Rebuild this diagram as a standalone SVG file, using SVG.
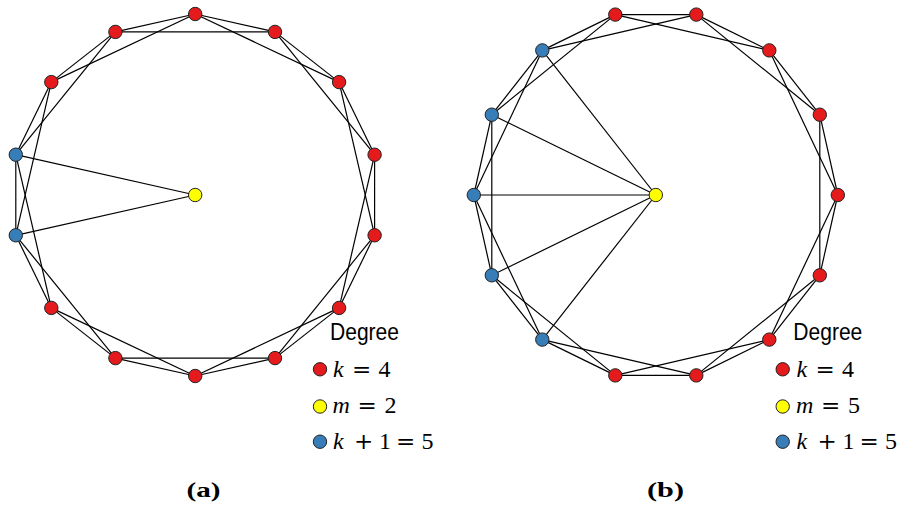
<svg xmlns="http://www.w3.org/2000/svg" width="902" height="508" viewBox="0 0 902 508">
<style>
.e{stroke:#000;stroke-width:1.2;fill:none}
.n{stroke:#222;stroke-width:1}
.r{fill:#e41a1c}.y{fill:#ffff00}.b{fill:#377eb8}
.lab{font-family:"Liberation Sans","DejaVu Sans",sans-serif;font-size:23px;fill:#000}
.m{font-family:"Liberation Serif","DejaVu Serif",serif;font-size:24px;fill:#000}
.op{font-family:"DejaVu Serif","Liberation Serif",serif;font-size:23px}
.it{font-style:italic}
.cap{font-family:"Liberation Serif","DejaVu Serif",serif;font-weight:bold;font-size:22px;fill:#000}
</style>
<rect width="902" height="508" fill="#fff"/>
<g id="connectors-a">
<line class="e" x1="195.2" y1="14" x2="275" y2="31.9"/>
<line class="e" x1="275" y1="31.9" x2="339.1" y2="82.1"/>
<line class="e" x1="339.1" y1="82.1" x2="374.6" y2="154.7"/>
<line class="e" x1="374.6" y1="154.7" x2="374.6" y2="235.3"/>
<line class="e" x1="374.6" y1="235.3" x2="339.1" y2="307.9"/>
<line class="e" x1="339.1" y1="307.9" x2="275" y2="358.1"/>
<line class="e" x1="275" y1="358.1" x2="195.2" y2="376"/>
<line class="e" x1="195.2" y1="376" x2="115.4" y2="358.1"/>
<line class="e" x1="115.4" y1="358.1" x2="51.3" y2="307.9"/>
<line class="e" x1="51.3" y1="307.9" x2="15.8" y2="235.3"/>
<line class="e" x1="15.8" y1="235.3" x2="15.8" y2="154.7"/>
<line class="e" x1="15.8" y1="154.7" x2="51.3" y2="82.1"/>
<line class="e" x1="51.3" y1="82.1" x2="115.4" y2="31.9"/>
<line class="e" x1="115.4" y1="31.9" x2="195.2" y2="14"/>
<line class="e" x1="195.2" y1="14" x2="339.1" y2="82.1"/>
<line class="e" x1="275" y1="31.9" x2="374.6" y2="154.7"/>
<line class="e" x1="339.1" y1="82.1" x2="374.6" y2="235.3"/>
<line class="e" x1="374.6" y1="154.7" x2="339.1" y2="307.9"/>
<line class="e" x1="374.6" y1="235.3" x2="275" y2="358.1"/>
<line class="e" x1="339.1" y1="307.9" x2="195.2" y2="376"/>
<line class="e" x1="275" y1="358.1" x2="115.4" y2="358.1"/>
<line class="e" x1="195.2" y1="376" x2="51.3" y2="307.9"/>
<line class="e" x1="115.4" y1="358.1" x2="15.8" y2="235.3"/>
<line class="e" x1="51.3" y1="307.9" x2="15.8" y2="154.7"/>
<line class="e" x1="15.8" y1="235.3" x2="51.3" y2="82.1"/>
<line class="e" x1="15.8" y1="154.7" x2="115.4" y2="31.9"/>
<line class="e" x1="51.3" y1="82.1" x2="195.2" y2="14"/>
<line class="e" x1="115.4" y1="31.9" x2="275" y2="31.9"/>
<line class="e" x1="15.8" y1="235.3" x2="195.2" y2="195"/>
<line class="e" x1="15.8" y1="154.7" x2="195.2" y2="195"/>
</g>
<g id="connectors-b">
<line class="e" x1="615.3" y1="14.6" x2="696.3" y2="14.6"/>
<line class="e" x1="696.3" y1="14.6" x2="769.3" y2="50.4"/>
<line class="e" x1="769.3" y1="50.4" x2="819.8" y2="114.7"/>
<line class="e" x1="819.8" y1="114.7" x2="837.8" y2="195"/>
<line class="e" x1="837.8" y1="195" x2="819.8" y2="275.3"/>
<line class="e" x1="819.8" y1="275.3" x2="769.3" y2="339.6"/>
<line class="e" x1="769.3" y1="339.6" x2="696.3" y2="375.4"/>
<line class="e" x1="696.3" y1="375.4" x2="615.3" y2="375.4"/>
<line class="e" x1="615.3" y1="375.4" x2="542.3" y2="339.6"/>
<line class="e" x1="542.3" y1="339.6" x2="491.8" y2="275.3"/>
<line class="e" x1="491.8" y1="275.3" x2="473.8" y2="195"/>
<line class="e" x1="473.8" y1="195" x2="491.8" y2="114.7"/>
<line class="e" x1="491.8" y1="114.7" x2="542.3" y2="50.4"/>
<line class="e" x1="542.3" y1="50.4" x2="615.3" y2="14.6"/>
<line class="e" x1="615.3" y1="14.6" x2="769.3" y2="50.4"/>
<line class="e" x1="696.3" y1="14.6" x2="819.8" y2="114.7"/>
<line class="e" x1="769.3" y1="50.4" x2="837.8" y2="195"/>
<line class="e" x1="819.8" y1="114.7" x2="819.8" y2="275.3"/>
<line class="e" x1="837.8" y1="195" x2="769.3" y2="339.6"/>
<line class="e" x1="819.8" y1="275.3" x2="696.3" y2="375.4"/>
<line class="e" x1="769.3" y1="339.6" x2="615.3" y2="375.4"/>
<line class="e" x1="696.3" y1="375.4" x2="542.3" y2="339.6"/>
<line class="e" x1="615.3" y1="375.4" x2="491.8" y2="275.3"/>
<line class="e" x1="542.3" y1="339.6" x2="473.8" y2="195"/>
<line class="e" x1="491.8" y1="275.3" x2="491.8" y2="114.7"/>
<line class="e" x1="473.8" y1="195" x2="542.3" y2="50.4"/>
<line class="e" x1="491.8" y1="114.7" x2="615.3" y2="14.6"/>
<line class="e" x1="542.3" y1="50.4" x2="696.3" y2="14.6"/>
<line class="e" x1="542.3" y1="339.6" x2="655.8" y2="195"/>
<line class="e" x1="491.8" y1="275.3" x2="655.8" y2="195"/>
<line class="e" x1="473.8" y1="195" x2="655.8" y2="195"/>
<line class="e" x1="491.8" y1="114.7" x2="655.8" y2="195"/>
<line class="e" x1="542.3" y1="50.4" x2="655.8" y2="195"/>
</g>
<g id="a0"><circle class="n r" cx="195.2" cy="14" r="6.7"/></g>
<g id="a1"><circle class="n r" cx="275" cy="31.9" r="6.7"/></g>
<g id="a2"><circle class="n r" cx="339.1" cy="82.1" r="6.7"/></g>
<g id="a3"><circle class="n r" cx="374.6" cy="154.7" r="6.7"/></g>
<g id="a4"><circle class="n r" cx="374.6" cy="235.3" r="6.7"/></g>
<g id="a5"><circle class="n r" cx="339.1" cy="307.9" r="6.7"/></g>
<g id="a6"><circle class="n r" cx="275" cy="358.1" r="6.7"/></g>
<g id="a7"><circle class="n r" cx="195.2" cy="376" r="6.7"/></g>
<g id="a8"><circle class="n r" cx="115.4" cy="358.1" r="6.7"/></g>
<g id="a9"><circle class="n r" cx="51.3" cy="307.9" r="6.7"/></g>
<g id="a10"><circle class="n b" cx="15.8" cy="235.3" r="6.7"/></g>
<g id="a11"><circle class="n b" cx="15.8" cy="154.7" r="6.7"/></g>
<g id="a12"><circle class="n r" cx="51.3" cy="82.1" r="6.7"/></g>
<g id="a13"><circle class="n r" cx="115.4" cy="31.9" r="6.7"/></g>
<g id="aY"><circle class="n y" cx="195.2" cy="195" r="6.7"/></g>
<g id="b0"><circle class="n r" cx="615.3" cy="14.6" r="6.7"/></g>
<g id="b1"><circle class="n r" cx="696.3" cy="14.6" r="6.7"/></g>
<g id="b2"><circle class="n r" cx="769.3" cy="50.4" r="6.7"/></g>
<g id="b3"><circle class="n r" cx="819.8" cy="114.7" r="6.7"/></g>
<g id="b4"><circle class="n r" cx="837.8" cy="195" r="6.7"/></g>
<g id="b5"><circle class="n r" cx="819.8" cy="275.3" r="6.7"/></g>
<g id="b6"><circle class="n r" cx="769.3" cy="339.6" r="6.7"/></g>
<g id="b7"><circle class="n r" cx="696.3" cy="375.4" r="6.7"/></g>
<g id="b8"><circle class="n r" cx="615.3" cy="375.4" r="6.7"/></g>
<g id="b9"><circle class="n b" cx="542.3" cy="339.6" r="6.7"/></g>
<g id="b10"><circle class="n b" cx="491.8" cy="275.3" r="6.7"/></g>
<g id="b11"><circle class="n b" cx="473.8" cy="195" r="6.7"/></g>
<g id="b12"><circle class="n b" cx="491.8" cy="114.7" r="6.7"/></g>
<g id="b13"><circle class="n b" cx="542.3" cy="50.4" r="6.7"/></g>
<g id="bY"><circle class="n y" cx="655.8" cy="195" r="6.7"/></g>
<g id="legend-a">
<text class="lab" x="330" y="339.5" textLength="69" lengthAdjust="spacingAndGlyphs">Degree</text>
<circle class="n r" cx="320" cy="369.3" r="6.7"/>
<text class="m" y="376.5"><tspan x="333" class="it">k</tspan> <tspan x="352" class="op">=</tspan> <tspan x="378.5">4</tspan></text>
<circle class="n y" cx="320" cy="406.5" r="6.7"/>
<text class="m" y="413"><tspan x="332.5" class="it">m</tspan> <tspan x="357.5" class="op">=</tspan> <tspan x="384.5">2</tspan></text>
<circle class="n b" cx="320" cy="441.7" r="6.7"/>
<text class="m" y="448.5"><tspan x="333" class="it">k</tspan> <tspan x="354" class="op">+</tspan> <tspan x="379">1</tspan> <tspan x="396" class="op">=</tspan> <tspan x="421.5">5</tspan></text>
</g>
<g id="legend-b">
<text class="lab" x="793.3" y="339.5" textLength="69" lengthAdjust="spacingAndGlyphs">Degree</text>
<circle class="n r" cx="782.7" cy="369.3" r="6.7"/>
<text class="m" y="376.5"><tspan x="796.5" class="it">k</tspan> <tspan x="815.5" class="op">=</tspan> <tspan x="842">4</tspan></text>
<circle class="n y" cx="782.7" cy="406.5" r="6.7"/>
<text class="m" y="413"><tspan x="796" class="it">m</tspan> <tspan x="821" class="op">=</tspan> <tspan x="848">5</tspan></text>
<circle class="n b" cx="782.7" cy="441.7" r="6.7"/>
<text class="m" y="448.5"><tspan x="796.5" class="it">k</tspan> <tspan x="817.5" class="op">+</tspan> <tspan x="842.5">1</tspan> <tspan x="859.5" class="op">=</tspan> <tspan x="885">5</tspan></text>
</g>
<text class="cap" x="203.5" y="497" text-anchor="middle" textLength="34" lengthAdjust="spacingAndGlyphs">(a)</text>
<text class="cap" x="665.5" y="497" text-anchor="middle" textLength="37" lengthAdjust="spacingAndGlyphs">(b)</text>
</svg>
